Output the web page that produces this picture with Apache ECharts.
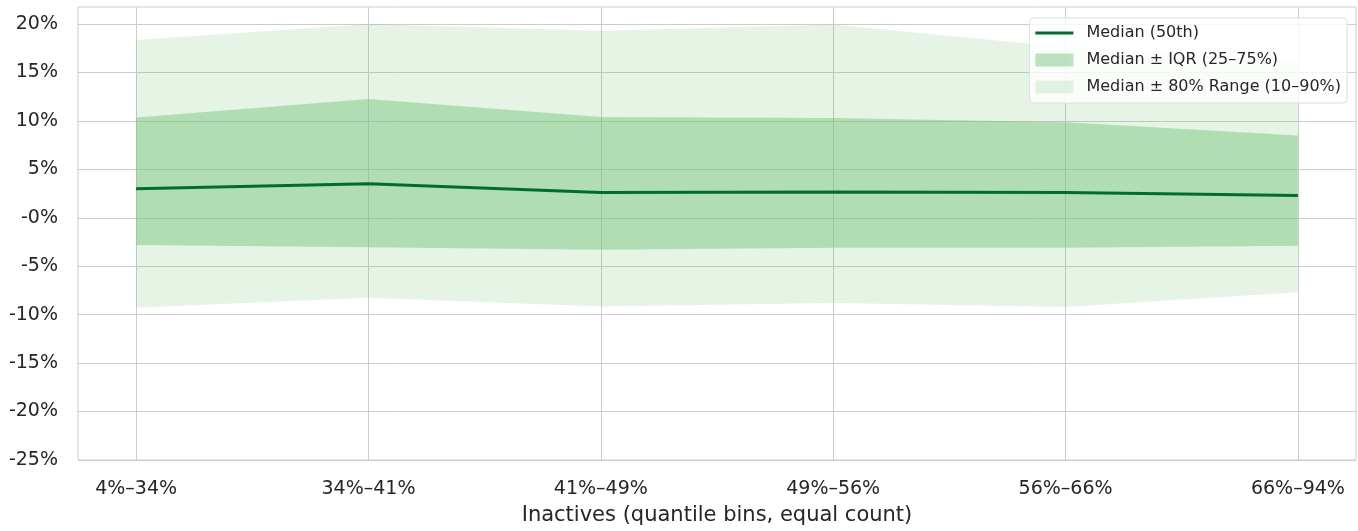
<!DOCTYPE html>
<html>
<head>
<meta charset="utf-8">
<script src="https://cdn.jsdelivr.net/npm/echarts@6/dist/echarts.min.js"></script>
<style>
  html, body { margin: 0; padding: 0; background: #fff; }
  #chart { width: 1358px; height: 531px; }
</style>
</head>
<body>
<div id="chart"></div>
<script>
// bins on the x axis
var categories = ['4%–34%', '34%–41%', '41%–49%', '49%–56%', '56%–66%', '66%–94%'];

// percentiles per bin, in %
var p10 = [-9.3, -8.25, -9.15, -8.8, -9.2, -7.7];
var p25 = [-2.8, -3.05, -3.3, -3.1, -3.1, -2.9];
var p50 = [3.0, 3.5, 2.6, 2.65, 2.6, 2.3];
var p75 = [10.35, 12.25, 10.4, 10.3, 9.85, 8.5];
var p90 = [18.35, 20.0, 19.3, 19.95, 17.6, 16.3];

var yTicks = [-25, -20, -15, -10, -5, 0, 5, 10, 15, 20];
var yTickLabels = ['-25%', '-20%', '-15%', '-10%', '-5%', '-0%', '5%', '10%', '15%', '20%'];

var FONT = 'DejaVu Sans';
var TEXT = '#262626';
var GRID = '#cccccc';
var OUTER = 'rgba(116,196,118,0.18)';
var INNER = 'rgba(116,196,118,0.47)';
var MEDIAN = '#006d2c';

var xIdx = categories.map(function (c, i) { return i; });
function pts(arr) { return arr.map(function (v, i) { return [i, v]; }); }

// fill_between-like band: one polygon through the axis scales
function band(name, lo, hi, color) {
  return {
    name: name, type: 'custom', color: color, silent: true,
    data: lo.map(function (v, i) { return [i, v, hi[i]]; }),
    encode: { x: 0, y: [1, 2] },
    renderItem: function (params, api) {
      if (params.dataIndex !== 0) return null;
      var top = hi.map(function (v, i) { return api.coord([i, v]); });
      var bot = lo.map(function (v, i) { return api.coord([i, v]); }).reverse();
      return {
        type: 'polygon',
        shape: { points: top.concat(bot) },
        style: { fill: color, stroke: null }
      };
    }
  };
}

var chart = echarts.init(document.getElementById('chart'), null, { renderer: 'canvas' });

var option = {
  animation: false,
  backgroundColor: '#ffffff',
  textStyle: { fontFamily: FONT, color: TEXT },
  grid: {
    left: 78, right: 2, top: 7, bottom: 70,
    show: true, borderColor: GRID, borderWidth: 1, backgroundColor: 'transparent'
  },
  legend: {
    orient: 'vertical', right: 11, top: 18,
    padding: [7, 6, 8, 6],
    itemWidth: 38, itemHeight: 13, itemGap: 11,
    backgroundColor: 'rgba(255,255,255,0.8)',
    borderColor: '#dddddd', borderWidth: 1, borderRadius: 4,
    textStyle: { fontFamily: FONT, fontSize: 16, color: TEXT, padding: [0, 0, 0, 8] },
    data: [
      { name: 'Median (50th)', icon: 'path://M0,0 L38,0 L38,3 L0,3 Z', itemStyle: { color: MEDIAN } },
      { name: 'Median ± IQR (25–75%)', icon: 'rect', itemStyle: { color: INNER, borderWidth: 0 } },
      { name: 'Median ± 80% Range (10–90%)', icon: 'rect', itemStyle: { color: OUTER, borderWidth: 0 } }
    ]
  },
  xAxis: {
    type: 'value', min: -0.25, max: 5.25,
    name: 'Inactives (quantile bins, equal count)',
    nameLocation: 'middle', nameGap: 45,
    nameTextStyle: { fontFamily: FONT, fontSize: 21, color: TEXT },
    axisLine: { show: false },
    axisTick: { show: false, customValues: xIdx },
    axisLabel: {
      customValues: xIdx, margin: 20,
      fontFamily: FONT, fontSize: 19, color: TEXT,
      formatter: function (v) { return categories[Math.round(v)]; }
    },
    splitLine: { show: true, lineStyle: { color: GRID, width: 1 } }
  },
  yAxis: {
    type: 'value', min: -25, max: 21.75,
    axisLine: { show: false },
    axisTick: { show: false, customValues: yTicks },
    axisLabel: {
      customValues: yTicks, margin: 20,
      fontFamily: FONT, fontSize: 19, color: TEXT,
      formatter: function (v) {
        var i = yTicks.indexOf(Math.round(v));
        return i >= 0 ? yTickLabels[i] : '';
      }
    },
    splitLine: { show: true, lineStyle: { color: GRID, width: 1 } }
  },
  series: [
    band('Median ± 80% Range (10–90%)', p10, p90, OUTER),
    band('Median ± IQR (25–75%)', p25, p75, INNER),
    {
      name: 'Median (50th)', type: 'line', symbol: 'none', color: MEDIAN,
      lineStyle: { color: MEDIAN, width: 3 },
      data: pts(p50), z: 5
    }
  ]
};

chart.setOption(option);
</script>
</body>
</html>
